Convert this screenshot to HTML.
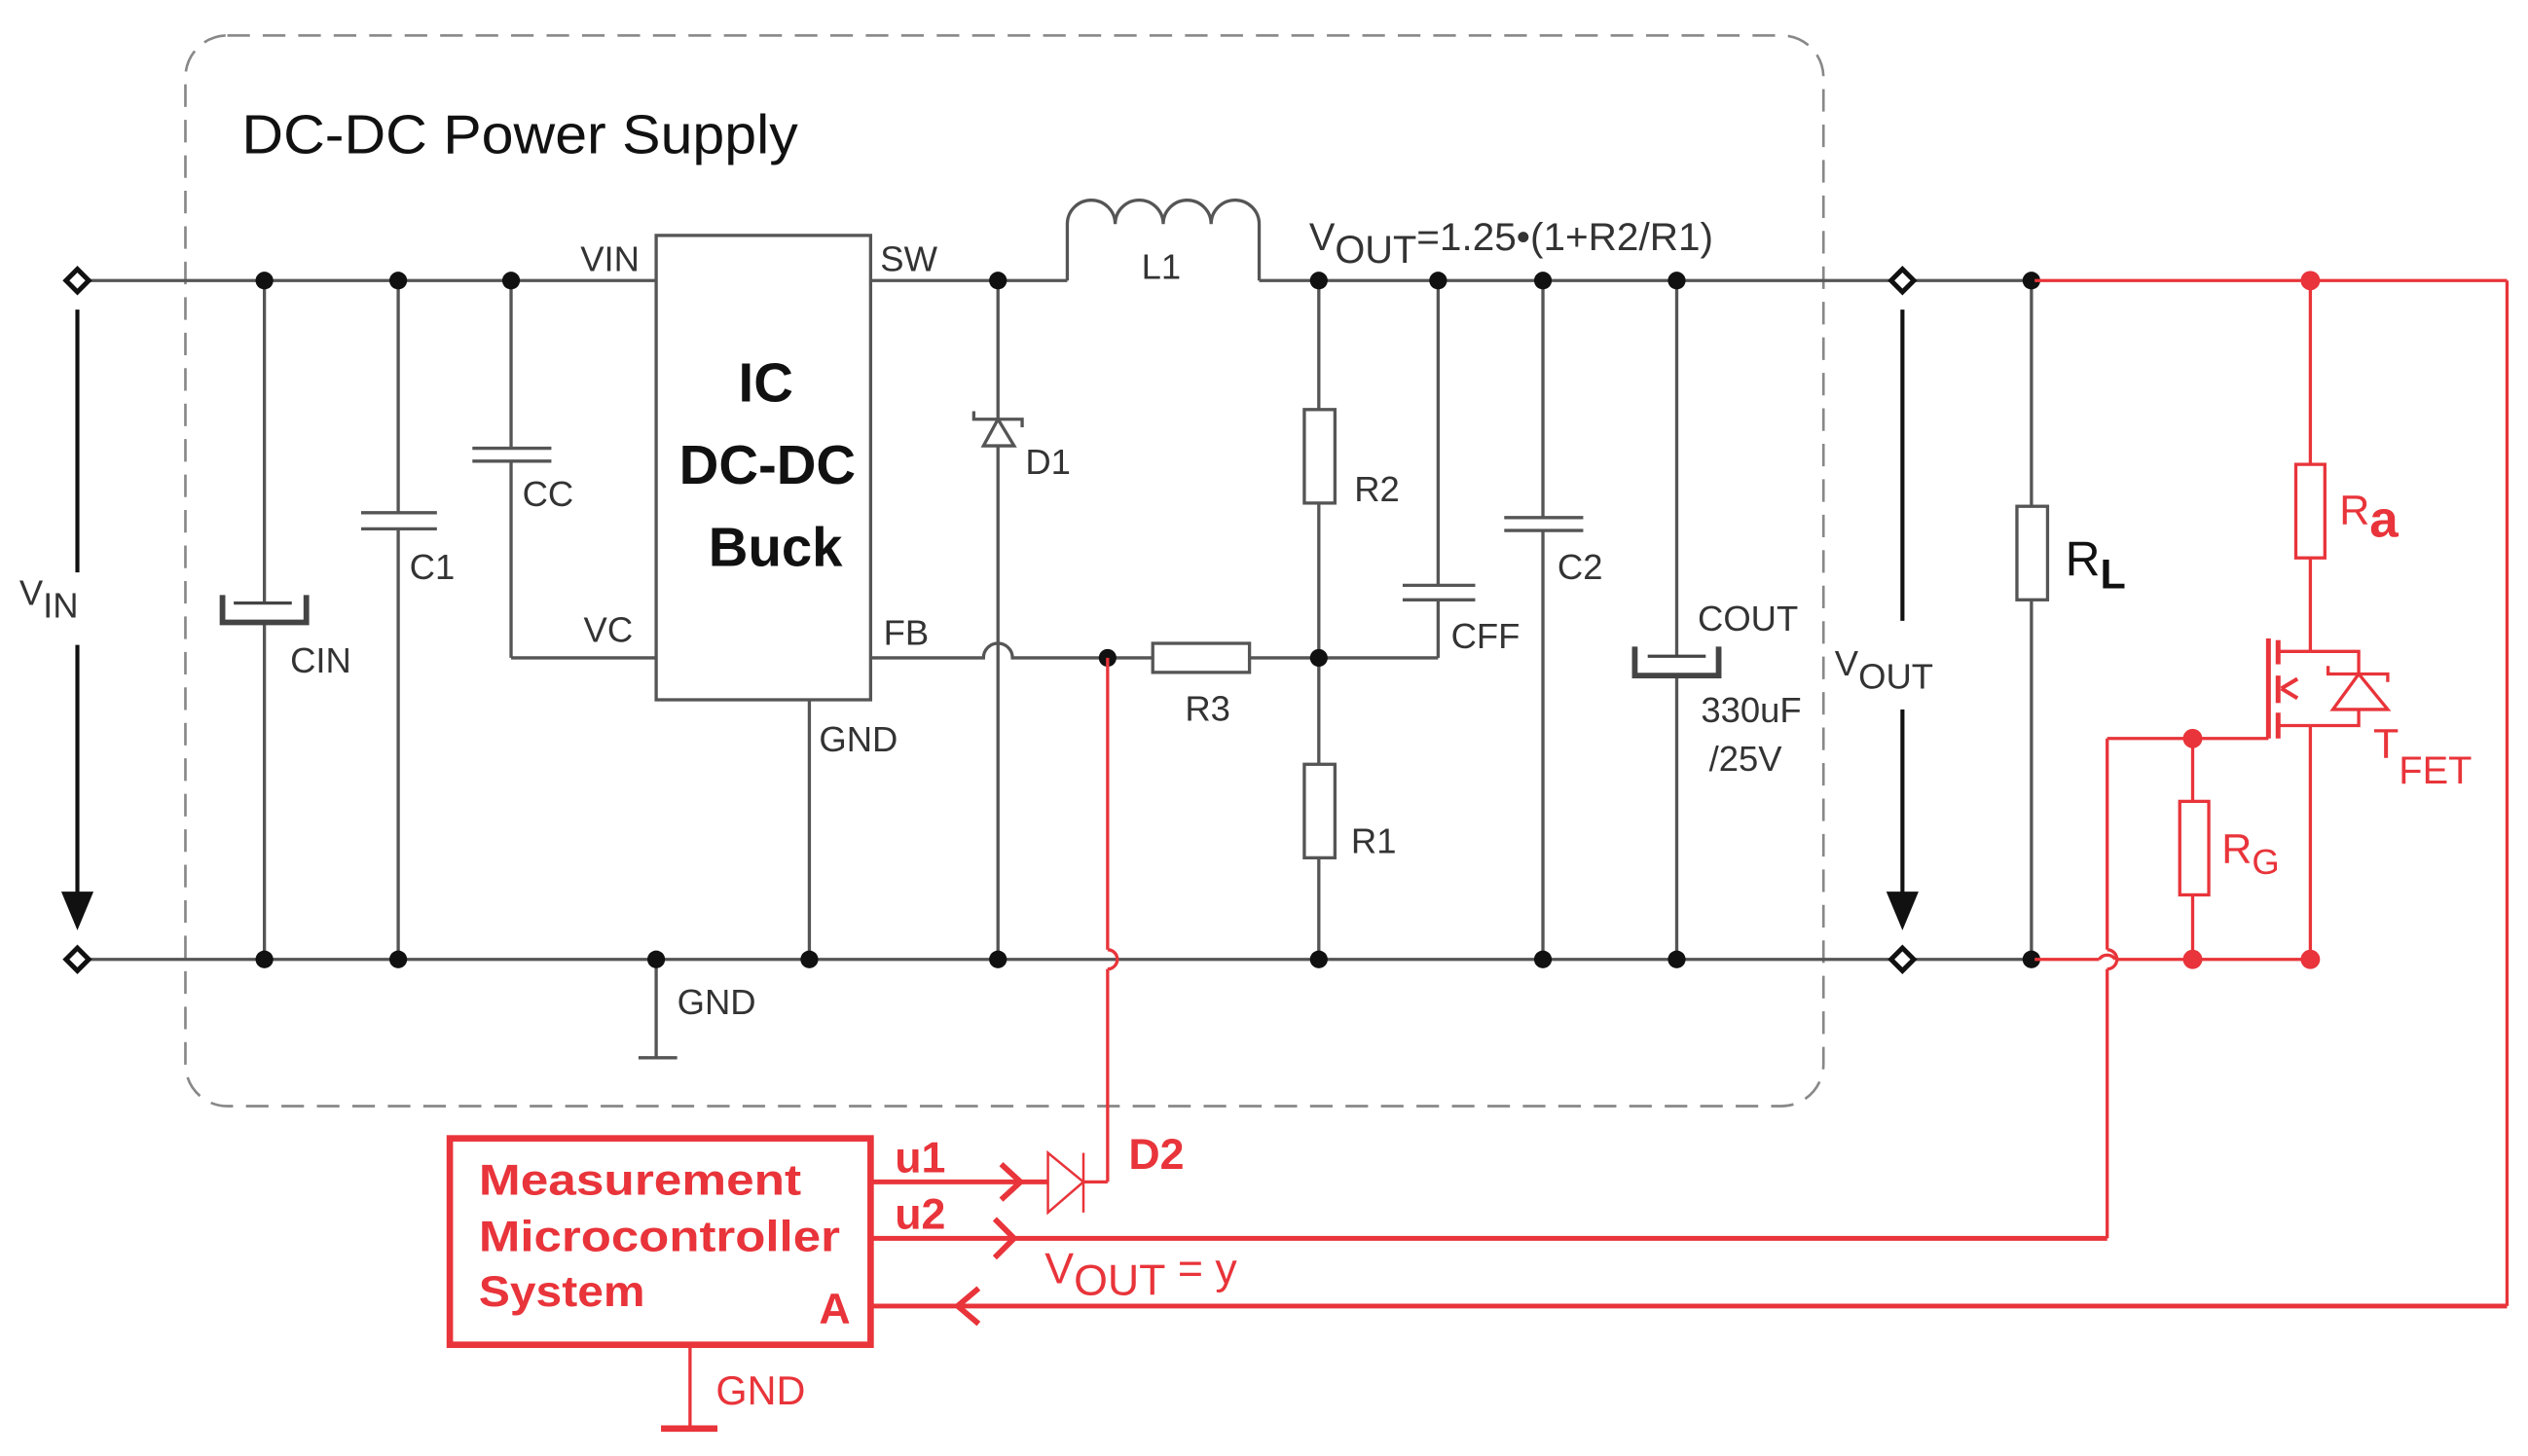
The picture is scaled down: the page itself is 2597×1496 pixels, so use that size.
<!DOCTYPE html>
<html><head><meta charset="utf-8"><style>
html,body{margin:0;padding:0;background:#fff;}
svg{display:block;}
text{font-family:"Liberation Sans",sans-serif;}
</style></head><body>
<svg width="2597" height="1496" viewBox="0 0 1568 903" preserveAspectRatio="none" xmlns="http://www.w3.org/2000/svg">
<rect x="0" y="0" width="1568" height="903" fill="#fff"/>
<rect x="115" y="22" width="1016" height="664" rx="26" ry="26" fill="none" stroke="#888" stroke-width="1.6" stroke-dasharray="14,8"/>
<text x="150" y="95" font-size="34" fill="#111" font-family="DejaVu Sans,Liberation Sans,sans-serif" textLength="345" lengthAdjust="spacingAndGlyphs">DC-DC Power Supply</text>

<g stroke="#555" stroke-width="2" fill="none">
<line x1="55" y1="174" x2="407" y2="174"/>
<line x1="540" y1="174" x2="662" y2="174"/>
<line x1="781" y1="174" x2="1173" y2="174"/>
<line x1="1187" y1="174" x2="1262" y2="174"/>
<line x1="55" y1="595" x2="1173" y2="595"/>
<line x1="1187" y1="595" x2="1262" y2="595"/>
<path d="M662,174 V139 A14.8,14.8 0 0 1 691.7,139 A14.8,14.8 0 0 1 721.5,139 A14.8,14.8 0 0 1 751.2,139 A14.8,14.8 0 0 1 781,139 V174"/>
<line x1="164" y1="174" x2="164" y2="374"/>
<line x1="164" y1="387" x2="164" y2="595"/>
<line x1="247" y1="174" x2="247" y2="318"/>
<line x1="247" y1="328" x2="247" y2="595"/>
<line x1="224" y1="318" x2="271" y2="318"/>
<line x1="224" y1="328" x2="271" y2="328"/>
<line x1="317" y1="174" x2="317" y2="278"/>
<line x1="317" y1="286" x2="317" y2="408"/>
<line x1="293" y1="278" x2="342" y2="278"/>
<line x1="293" y1="286" x2="342" y2="286"/>
<line x1="317" y1="408" x2="407" y2="408"/>
<rect x="407" y="146" width="133" height="288" stroke-width="2"/>
<line x1="502" y1="434" x2="502" y2="595"/>
<line x1="407" y1="595" x2="407" y2="656"/>
<line x1="396" y1="656" x2="420" y2="656"/>
<line x1="619" y1="174" x2="619" y2="595"/>
<path d="M619,260 L610,276.5 L629,276.5 Z" fill="#fff"/>
<path d="M604,255 V260 H634 V265"/>
<path d="M540,408 H610 A9,9 0 0 1 628,408 H715"/>
<rect x="715" y="399" width="60" height="18"/>
<line x1="775" y1="408" x2="892" y2="408"/>
<line x1="818" y1="174" x2="818" y2="254"/>
<rect x="809" y="254" width="19" height="58"/>
<line x1="818" y1="312" x2="818" y2="474"/>
<rect x="809" y="474" width="19" height="58"/>
<line x1="818" y1="532" x2="818" y2="595"/>
<line x1="892" y1="174" x2="892" y2="363"/>
<line x1="892" y1="372" x2="892" y2="408"/>
<line x1="870" y1="363" x2="915" y2="363"/>
<line x1="870" y1="372" x2="915" y2="372"/>
<line x1="957" y1="174" x2="957" y2="321"/>
<line x1="957" y1="329" x2="957" y2="595"/>
<line x1="933" y1="321" x2="982" y2="321"/>
<line x1="933" y1="329" x2="982" y2="329"/>
<line x1="1040" y1="174" x2="1040" y2="407"/>
<line x1="1040" y1="420" x2="1040" y2="595"/>
<line x1="1260" y1="174" x2="1260" y2="314"/>
<rect x="1251" y="314" width="19" height="58"/>
<line x1="1260" y1="372" x2="1260" y2="595"/>
</g>
<g stroke="#444" fill="none">
<line x1="145" y1="374" x2="181" y2="374" stroke-width="2"/>
<path d="M138,369 V386 H190 V369" stroke-width="3.5"/>
<line x1="1022" y1="407" x2="1058" y2="407" stroke-width="2"/>
<path d="M1014,401 V419 H1066 V401" stroke-width="3.5"/>
</g>
<g stroke="#111" stroke-width="2.5">
<line x1="48" y1="192" x2="48" y2="355"/>
<line x1="48" y1="400" x2="48" y2="556"/>
<line x1="1180" y1="192" x2="1180" y2="385"/>
<line x1="1180" y1="440" x2="1180" y2="556"/>
</g>
<path d="M38,553 L58,553 L48,577 Z" fill="#111"/>
<path d="M1170,553 L1190,553 L1180,577 Z" fill="#111"/>
<g fill="#fff" stroke="#111" stroke-width="3">
<rect x="43" y="169" width="10" height="10" transform="rotate(45 48 174)"/>
<rect x="43" y="590" width="10" height="10" transform="rotate(45 48 595)"/>
<rect x="1175" y="169" width="10" height="10" transform="rotate(45 1180 174)"/>
<rect x="1175" y="590" width="10" height="10" transform="rotate(45 1180 595)"/>
</g>
<g fill="#111">
<circle cx="164" cy="174" r="5.5"/><circle cx="247" cy="174" r="5.5"/><circle cx="317" cy="174" r="5.5"/>
<circle cx="619" cy="174" r="5.5"/><circle cx="818" cy="174" r="5.5"/><circle cx="892" cy="174" r="5.5"/>
<circle cx="957" cy="174" r="5.5"/><circle cx="1040" cy="174" r="5.5"/><circle cx="1260" cy="174" r="5.5"/>
<circle cx="164" cy="595" r="5.5"/><circle cx="247" cy="595" r="5.5"/><circle cx="407" cy="595" r="5.5"/>
<circle cx="502" cy="595" r="5.5"/><circle cx="619" cy="595" r="5.5"/><circle cx="818" cy="595" r="5.5"/>
<circle cx="957" cy="595" r="5.5"/><circle cx="1040" cy="595" r="5.5"/><circle cx="1260" cy="595" r="5.5"/>
<circle cx="687" cy="408" r="5.5"/><circle cx="818" cy="408" r="5.5"/>
</g>
<g fill="#333" font-size="22">
<text x="360" y="168">VIN</text>
<text x="546" y="168">SW</text>
<text x="362" y="398">VC</text>
<text x="548" y="400">FB</text>
<text x="508" y="466">GND</text>
<text x="420" y="629">GND</text>
<text x="180" y="417">CIN</text>
<text x="254" y="359">C1</text>
<text x="324" y="314">CC</text>
<text x="636" y="294">D1</text>
<text x="708" y="173">L1</text>
<text x="735" y="447">R3</text>
<text x="840" y="311">R2</text>
<text x="838" y="529">R1</text>
<text x="900" y="402">CFF</text>
<text x="966" y="359">C2</text>
<text x="1053" y="391">COUT</text>
<text x="1055" y="448">330uF</text>
<text x="1060" y="478">/25V</text>
<text x="812" y="155" font-size="24">V<tspan dy="8">OUT</tspan><tspan dy="-8" textLength="184" lengthAdjust="spacingAndGlyphs">=1.25•(1+R2/R1)</tspan></text>
<text x="12" y="375">V<tspan dy="8">IN</tspan></text>
<text x="1138" y="419">V<tspan dy="8">OUT</tspan></text>
</g>
<g fill="#111" font-weight="bold" font-size="34" font-family="DejaVu Sans,Liberation Sans,sans-serif" text-anchor="middle">
<text x="475" y="249">IC</text>
<text x="476" y="300">DC-DC</text>
<text x="481" y="351">Buck</text>
</g>
<text x="1281" y="357" font-size="30" fill="#111" font-family="DejaVu Sans,sans-serif">R<tspan font-size="26" dy="8" font-weight="bold">L</tspan></text>

<g stroke="#e8343a" stroke-width="2" fill="none">
<line x1="1262" y1="174" x2="1555" y2="174"/>
<line x1="1262" y1="595" x2="1302" y2="595"/>
<path d="M1302,595 A6,6 0 0 1 1312,595"/>
<line x1="1312" y1="595" x2="1433" y2="595"/>
<line x1="1555" y1="174" x2="1555" y2="810"/>
<line x1="1555" y1="810" x2="540" y2="810" stroke-width="3"/>
<line x1="1433" y1="174" x2="1433" y2="288"/>
<rect x="1424" y="288" width="18" height="58"/>
<line x1="1433" y1="346" x2="1433" y2="404"/>
<line x1="1433" y1="450" x2="1433" y2="595"/>
<line x1="1407" y1="396" x2="1407" y2="458" stroke-width="3"/>
<line x1="1413" y1="397" x2="1413" y2="412" stroke-width="3"/>
<line x1="1413" y1="419" x2="1413" y2="436" stroke-width="3"/>
<line x1="1413" y1="442" x2="1413" y2="458" stroke-width="3"/>
<line x1="1413" y1="404" x2="1433" y2="404"/>
<line x1="1413" y1="450" x2="1433" y2="450"/>
<path d="M1433,404 H1463 V418"/>
<path d="M1433,450 H1463 V440"/>
<path d="M1463,418 L1447,440 L1481,440 Z"/>
<path d="M1444,413 V418 H1481 V423"/>
<path d="M1415,427 L1425,421 M1415,427 L1425,433" stroke-width="2.5"/>
<line x1="1407" y1="458" x2="1307" y2="458"/>
<line x1="1307" y1="458" x2="1307" y2="589"/>
<path d="M1307,589 A6,6 0 0 1 1307,601"/>
<line x1="1307" y1="601" x2="1307" y2="768"/>
<line x1="1307" y1="768" x2="540" y2="768" stroke-width="3"/>
<line x1="1360" y1="458" x2="1360" y2="497"/>
<rect x="1352" y="497" width="18" height="58"/>
<line x1="1360" y1="555" x2="1360" y2="595"/>
<line x1="687" y1="408" x2="687" y2="589"/>
<path d="M687,589 A6,6 0 0 1 687,601"/>
<line x1="687" y1="601" x2="687" y2="733"/>
<line x1="687" y1="733" x2="672" y2="733"/>
<line x1="540" y1="733" x2="650" y2="733" stroke-width="3"/>
<path d="M650,715 V752 L672,733 Z" stroke-width="1.5"/>
<line x1="672" y1="715" x2="672" y2="752" stroke-width="1.5"/>
<path d="M621,722 L633,733 L621,744" stroke-width="3.5"/>
<path d="M617,756 L629,768 L617,780" stroke-width="3.5"/>
<path d="M607,799 L594,810 L607,821" stroke-width="3.5"/>
<rect x="279" y="706" width="261" height="128" stroke-width="4"/>
<line x1="428" y1="834" x2="428" y2="885"/>
<line x1="410" y1="886" x2="445" y2="886" stroke-width="4"/>
</g>
<g fill="#e8343a">
<circle cx="1433" cy="174" r="6"/>
<circle cx="1433" cy="595" r="6"/>
<circle cx="1360" cy="595" r="6"/>
<circle cx="1360" cy="458" r="6"/>
</g>
<g fill="#e8343a" font-family="DejaVu Sans,Liberation Sans,sans-serif" font-weight="bold" font-size="27">
<text x="297" y="741" textLength="200" lengthAdjust="spacingAndGlyphs">Measurement</text>
<text x="297" y="776" textLength="224" lengthAdjust="spacingAndGlyphs">Microcontroller</text>
<text x="297" y="810" textLength="103" lengthAdjust="spacingAndGlyphs">System</text>
<text x="508" y="821">A</text>
<text x="555" y="727">u1</text>
<text x="555" y="762">u2</text>
<text x="700" y="725">D2</text>
<text x="444" y="871" font-weight="normal" font-size="25">GND</text>
<text x="648" y="796" font-weight="normal" font-size="27">V<tspan dy="7">OUT</tspan><tspan dy="-7"> = y</tspan></text>
<text x="1451" y="325" font-weight="normal" font-size="26">R<tspan font-size="32" font-weight="bold" dy="8">a</tspan></text>
<text x="1378" y="535" font-weight="normal" font-size="26">R<tspan font-size="22" dy="7">G</tspan></text>
<text x="1472" y="470" font-weight="normal" font-size="26">T<tspan font-size="24" dy="16">FET</tspan></text>
</g>
</svg>
</body></html>
